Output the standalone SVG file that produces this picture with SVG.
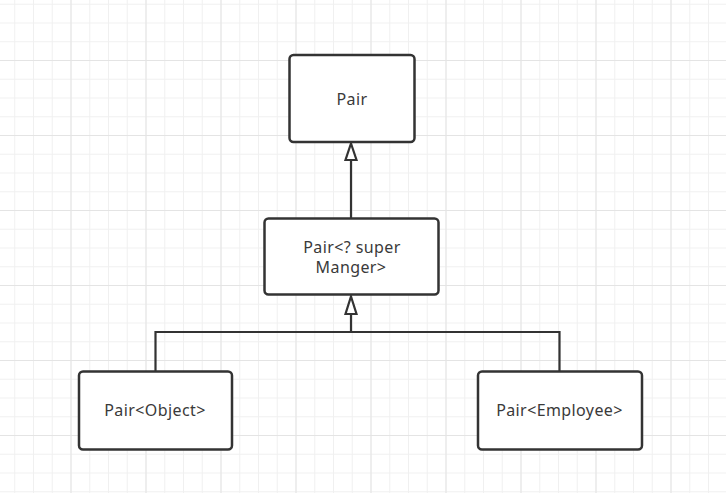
<svg xmlns="http://www.w3.org/2000/svg" width="726" height="493" viewBox="0 0 726 493">
<defs>
<pattern id="minor" patternUnits="userSpaceOnUse" x="-4.5" y="-15" width="18.75" height="18.75">
<path d="M0.5 0V18.75M0 0.5H18.75" stroke="#f0f0f0" stroke-width="1" fill="none"/>
</pattern>
<pattern id="major" patternUnits="userSpaceOnUse" x="-4.5" y="-15" width="75" height="75">
<path d="M0.5 0V75M0 0.5H75" stroke="#e4e4e4" stroke-width="1" fill="none"/>
</pattern>
<style>
.box{fill:#fff;stroke:#333;stroke-width:2.5}
.lbl{font-family:"Noto Sans","Open Sans",sans-serif;font-size:16px;fill:#3a3a3a;text-anchor:middle;letter-spacing:0.4px}
.edge{fill:none;stroke:#333;stroke-width:2.2}
.head{fill:#fff;stroke:#333;stroke-width:2.2}
</style>
</defs>
<rect width="726" height="493" fill="#fff"/>
<rect width="726" height="493" fill="url(#minor)"/>
<rect width="726" height="493" fill="url(#major)"/>
<g id="connectors">
<path class="edge" d="M351 218V160"/>
<path class="head" d="M351 143.5L356.5 160H345.5Z"/>
<path class="edge" d="M155.5 371V332H559.5V371M351 332V314"/>
<path class="head" d="M351 296.5L356.5 314H345.5Z"/>
</g>
<g id="pair">
<rect class="box" x="289.5" y="55" width="125" height="87" rx="4"/>
<text class="lbl" x="352" y="105">Pair</text>
</g>
<g id="pair-super">
<rect class="box" x="264.5" y="218.5" width="174" height="76" rx="4"/>
<text class="lbl" x="352" y="252.5">Pair&lt;? super</text>
<text class="lbl" x="351" y="272.5">Manger&gt;</text>
</g>
<g id="pair-object">
<rect class="box" x="79" y="371.5" width="153" height="78" rx="4"/>
<text class="lbl" x="155" y="415.5">Pair&lt;Object&gt;</text>
</g>
<g id="pair-employee">
<rect class="box" x="478" y="371.5" width="164" height="78" rx="4"/>
<text class="lbl" x="559.5" y="415.5">Pair&lt;Employee&gt;</text>
</g>
</svg>
